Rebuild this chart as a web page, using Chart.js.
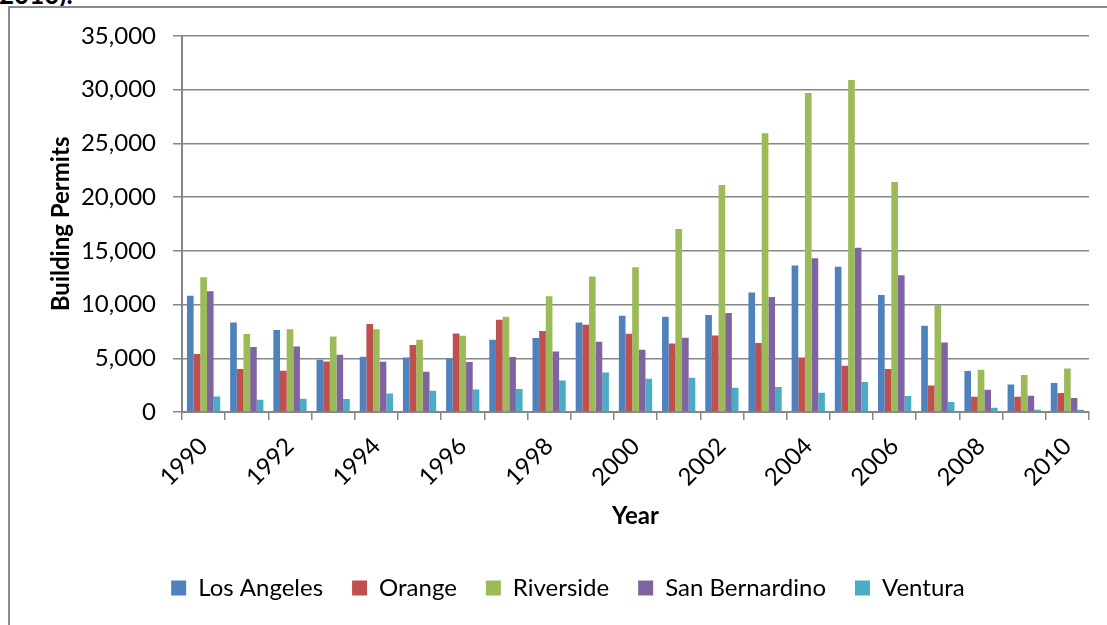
<!DOCTYPE html>
<html>
<head>
<meta charset="utf-8">
<script src="https://cdn.jsdelivr.net/npm/chart.js@4/dist/chart.umd.min.js"></script>
<style>
  html, body { margin: 0; padding: 0; background: #fff; width: 1107px; height: 625px; overflow: hidden; position: relative; }
  #caption { position: absolute; left: -1px; top: -19px; font: bold 26px Lato, sans-serif; line-height: 26px; color: #000; white-space: nowrap; }
  #frame { position: absolute; left: 8px; top: 6px; width: 1120px; height: 640px; border: 2px solid #8a8a8a; background: #fff; }
  #frame canvas { position: absolute; left: 0; top: 0; }
</style>
</head>
<body>
<div id="caption">2010).</div>
<div id="frame"><canvas id="chart" width="1116" height="619"></canvas></div>
<script>
// Residential building permits by county, 1990-2010
const years = ['1990','1991','1992','1993','1994','1995','1996','1997','1998','1999','2000',
               '2001','2002','2003','2004','2005','2006','2007','2008','2009','2010'];

const losAngeles    = [10810, 8330, 7620, 4860, 5140, 5075, 4955, 6720, 6875, 8330, 8950,
                       8860, 9015, 11115, 13625, 13505, 10875, 8020, 3810, 2565, 2695];
const orange        = [5390, 3995, 3840, 4705, 8180, 6225, 7305, 8580, 7525, 8110, 7275,
                       6375, 7120, 6410, 5075, 4300, 3995, 2475, 1420, 1420, 1765];
const riverside     = [12545, 7250, 7710, 7030, 7710, 6720, 7090, 8860, 10780, 12600, 13475,
                       17035, 21125, 25930, 29675, 30885, 21405, 9945, 3930, 3440, 4050];
const sanBernardino = [11245, 6040, 6100, 5325, 4675, 3745, 4645, 5110, 5630, 6535, 5790,
                       6905, 9200, 10690, 14310, 15270, 12730, 6470, 2070, 1515, 1300];
const ventura       = [1450, 1145, 1240, 1205, 1730, 1980, 2100, 2135, 2935, 3680, 3095,
                       3190, 2260, 2325, 1795, 2790, 1485, 930, 400, 215, 215];

const seriesNames  = ['Los Angeles', 'Orange', 'Riverside', 'San Bernardino', 'Ventura'];
const seriesData   = [losAngeles, orange, riverside, sanBernardino, ventura];
const seriesColors = ['#4F81BD', '#C0504D', '#9BBB59', '#8064A2', '#4BACC6'];

const axisGray = '#878787';
const labelFont = { family: 'Lato, sans-serif', size: 24 };
const valueFont = { family: 'Lato, sans-serif', size: 24, lineHeight: 0.9 };
const titleFont = { family: 'Lato, sans-serif', size: 24, weight: 'bold' };

new Chart(document.getElementById('chart'), {
  type: 'bar',
  data: {
    labels: years,
    datasets: seriesNames.map((name, i) => ({
      label: name,
      data: seriesData[i],
      backgroundColor: seriesColors[i],
      borderWidth: 0
    }))
  },
  options: {
    responsive: false,
    animation: false,
    layout: { padding: { left: 37, right: 37, top: 27, bottom: 17 } },
    datasets: { bar: { categoryPercentage: 0.77, barPercentage: 1.0 } },
    plugins: {
      legend: {
        position: 'bottom',
        labels: {
          boxWidth: 15, boxHeight: 15, padding: 29,
          color: '#000', font: labelFont
        }
      },
      tooltip: { enabled: false }
    },
    scales: {
      x: {
        grid: { drawOnChartArea: false, drawTicks: true, tickLength: 8, color: axisGray, lineWidth: 1.5 },
        border: { color: axisGray, width: 2 },
        ticks: {
          autoSkip: false, minRotation: 45, maxRotation: 45, padding: 12,
          color: '#000', font: labelFont,
          callback: (v, i) => (i % 2 === 0 ? years[i] : '')
        },
        title: { display: true, text: 'Year', color: '#000', font: titleFont, padding: { top: 0, bottom: 16 } },
        afterFit: s => { s.height = 135; }
      },
      y: {
        min: 0, max: 35000,
        grid: { color: axisGray, lineWidth: 1.5, tickLength: 9 },
        border: { color: axisGray, width: 2 },
        ticks: {
          stepSize: 5000, padding: 17, color: '#000', font: valueFont,
          callback: v => v.toLocaleString('en-US')
        },
        title: { display: true, text: 'Building Permits', color: '#000', font: titleFont, padding: { top: 0, bottom: 0 } },
        afterFit: s => { s.width = 135; }
      }
    }
  }
});
</script>
</body>
</html>
